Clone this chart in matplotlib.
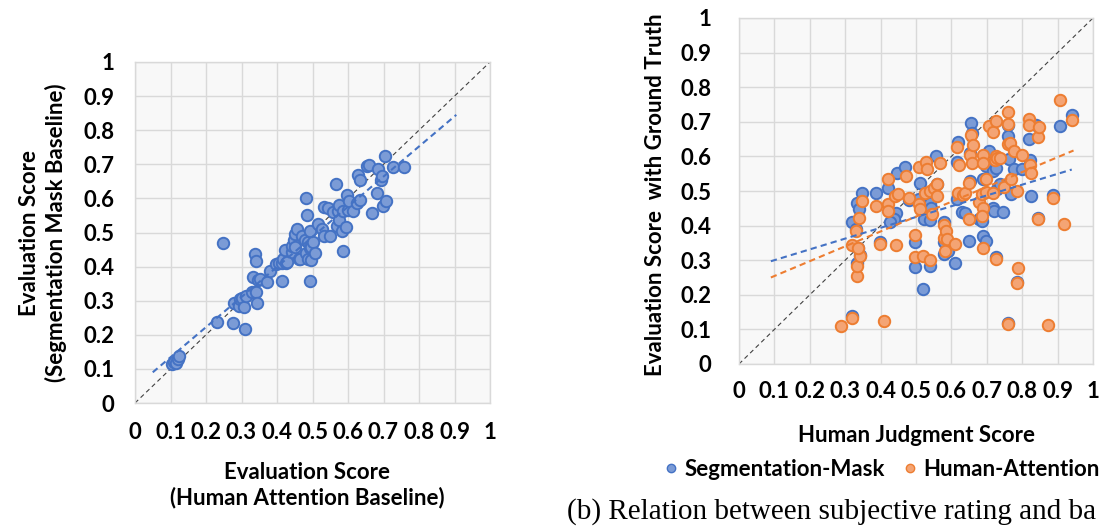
import numpy as np
import matplotlib
matplotlib.use('Agg')
import matplotlib.pyplot as plt
from matplotlib.lines import Line2D

# ---- data: left panel (human attention baseline vs segmentation mask baseline)
left_x = [0.105, 0.11, 0.115, 0.12, 0.125, 0.231, 0.248, 0.275, 0.278, 0.293, 0.295, 0.30,
          0.306, 0.309, 0.314, 0.33, 0.333, 0.339, 0.342, 0.34, 0.345, 0.347, 0.353, 0.373,
          0.38, 0.398, 0.405, 0.413, 0.414, 0.418, 0.422, 0.425, 0.427, 0.441, 0.443, 0.448,
          0.451, 0.452, 0.457, 0.461, 0.465, 0.47, 0.478, 0.482, 0.483, 0.485, 0.486, 0.487,
          0.492, 0.493, 0.494, 0.495, 0.497, 0.501, 0.507, 0.515, 0.528, 0.531, 0.531, 0.544,
          0.548, 0.559, 0.567, 0.568, 0.572, 0.576, 0.576, 0.584, 0.586, 0.587, 0.594, 0.597,
          0.601, 0.603, 0.613, 0.625, 0.628, 0.633, 0.634, 0.654, 0.658, 0.667, 0.682, 0.684,
          0.692, 0.696, 0.699, 0.703, 0.706, 0.726, 0.759]
left_y = [0.113, 0.12, 0.118, 0.128, 0.137, 0.237, 0.468, 0.235, 0.293, 0.283, 0.305, 0.308,
          0.281, 0.218, 0.313, 0.326, 0.37, 0.437, 0.415, 0.326, 0.293, 0.36, 0.364, 0.354,
          0.388, 0.409, 0.41, 0.357, 0.41, 0.421, 0.448, 0.412, 0.414, 0.444, 0.459, 0.479,
          0.458, 0.497, 0.51, 0.422, 0.421, 0.49, 0.479, 0.439, 0.6, 0.552, 0.421, 0.471,
          0.503, 0.358, 0.455, 0.457, 0.42, 0.471, 0.439, 0.526, 0.51, 0.491, 0.574, 0.572,
          0.489, 0.561, 0.643, 0.52, 0.562, 0.582, 0.538, 0.503, 0.445, 0.563, 0.516, 0.609,
          0.566, 0.591, 0.564, 0.587, 0.67, 0.655, 0.596, 0.696, 0.699, 0.556, 0.616, 0.686,
          0.655, 0.665, 0.577, 0.723, 0.591, 0.691, 0.691]
left_trend_x = [0.05, 0.905]
left_trend_y = [0.09, 0.845]

# ---- data: right panel (human judgment score vs evaluation score)
seg_x = [0.32, 0.332, 0.34, 0.347, 0.33, 0.336, 0.341, 0.332, 0.32, 0.388, 0.398, 0.42,
         0.444, 0.439, 0.427, 0.446, 0.47, 0.48, 0.51, 0.509, 0.498, 0.498, 0.522, 0.52,
         0.539, 0.541, 0.539, 0.539, 0.556, 0.558, 0.578, 0.578, 0.58, 0.59, 0.61, 0.617,
         0.62, 0.617, 0.629, 0.639, 0.649, 0.654, 0.652, 0.652, 0.659, 0.678, 0.686, 0.688,
         0.698, 0.688, 0.698, 0.707, 0.717, 0.727, 0.717, 0.72, 0.729, 0.727, 0.746, 0.737,
         0.759, 0.759, 0.764, 0.769, 0.777, 0.786, 0.8, 0.82, 0.822, 0.826, 0.839, 0.844,
         0.886, 0.907, 0.941, 0.759]
seg_y = [0.41, 0.466, 0.447, 0.495, 0.389, 0.334, 0.314, 0.293, 0.139, 0.495, 0.354, 0.509,
         0.437, 0.418, 0.41, 0.553, 0.57, 0.473, 0.522, 0.476, 0.354, 0.279, 0.418, 0.216,
         0.466, 0.452, 0.416, 0.282, 0.601, 0.521, 0.409, 0.353, 0.317, 0.327, 0.293, 0.584,
         0.641, 0.478, 0.439, 0.437, 0.356, 0.697, 0.609, 0.529, 0.668, 0.418, 0.413, 0.37,
         0.356, 0.534, 0.572, 0.615, 0.558, 0.567, 0.452, 0.442, 0.505, 0.308, 0.439, 0.519,
         0.692, 0.659, 0.593, 0.49, 0.563, 0.236, 0.564, 0.649, 0.591, 0.486, 0.692, 0.423,
         0.488, 0.689, 0.721, 0.118]
att_x = [0.288, 0.32, 0.41, 0.759, 0.873, 0.786, 0.787, 0.332, 0.332, 0.341, 0.32, 0.336,
         0.33, 0.34, 0.347, 0.388, 0.398, 0.42, 0.42, 0.42, 0.441, 0.449, 0.444, 0.471,
         0.48, 0.498, 0.498, 0.509, 0.509, 0.511, 0.52, 0.525, 0.529, 0.532, 0.539, 0.539,
         0.546, 0.551, 0.558, 0.558, 0.568, 0.578, 0.58, 0.583, 0.585, 0.587, 0.61, 0.617,
         0.62, 0.622, 0.632, 0.639, 0.649, 0.652, 0.654, 0.659, 0.66, 0.649, 0.678, 0.686,
         0.688, 0.686, 0.688, 0.688, 0.688, 0.698, 0.698, 0.707, 0.717, 0.722, 0.727, 0.727,
         0.73, 0.717, 0.727, 0.737, 0.749, 0.759, 0.759, 0.759, 0.766, 0.769, 0.778, 0.786,
         0.8, 0.82, 0.82, 0.822, 0.826, 0.844, 0.844, 0.847, 0.886, 0.907, 0.919, 0.941]
att_y = [0.111, 0.134, 0.124, 0.115, 0.113, 0.234, 0.278, 0.253, 0.282, 0.311, 0.343, 0.334,
         0.383, 0.423, 0.471, 0.457, 0.346, 0.534, 0.463, 0.442, 0.486, 0.49, 0.343, 0.543,
         0.481, 0.374, 0.31, 0.57, 0.462, 0.449, 0.313, 0.495, 0.584, 0.564, 0.3, 0.5,
         0.433, 0.51, 0.486, 0.519, 0.582, 0.402, 0.363, 0.327, 0.385, 0.36, 0.348, 0.628,
         0.495, 0.575, 0.488, 0.493, 0.418, 0.604, 0.661, 0.582, 0.632, 0.524, 0.468, 0.49,
         0.45, 0.428, 0.334, 0.603, 0.582, 0.534, 0.497, 0.688, 0.67, 0.589, 0.702, 0.602,
         0.594, 0.495, 0.303, 0.595, 0.512, 0.728, 0.695, 0.635, 0.639, 0.534, 0.615, 0.5,
         0.603, 0.707, 0.692, 0.575, 0.551, 0.418, 0.657, 0.686, 0.481, 0.763, 0.404, 0.704]
seg_trend_x = [0.09, 0.94]
seg_trend_y = [0.297, 0.562]
att_trend_x = [0.09, 0.945]
att_trend_y = [0.25, 0.617]

ticks = np.arange(0, 1.01, 0.1)
tick_labels = ['0', '0.1', '0.2', '0.3', '0.4', '0.5', '0.6', '0.7', '0.8', '0.9', '1']

blue_edge = '#4472C4'
blue_fill = '#7B9BD6'
orange_edge = '#ED7D31'
orange_fill = '#F4A474'

plt.rcParams['font.family'] = ['Lato', 'DejaVu Sans']
plt.rcParams['font.weight'] = 'bold'
FS = 16

fig = plt.figure(figsize=(11.07, 5.29), dpi=100)
W, H = 1107, 529


def style_axes(ax, pad_x, pad_y):
    ax.set_facecolor('#F8F8F8')
    ax.set_xlim(0, 1)
    ax.set_ylim(0, 1)
    ax.set_xticks(ticks)
    ax.set_yticks(ticks)
    ax.set_xticklabels(tick_labels)
    ax.set_yticklabels(tick_labels)
    ax.grid(True, color='#D9D9D9', linewidth=1.0)
    ax.set_axisbelow(True)
    for s in ax.spines.values():
        s.set_color('#D9D9D9')
        s.set_linewidth(1.0)
    ax.tick_params(axis='x', length=0, pad=pad_x, labelsize=FS)
    ax.tick_params(axis='y', length=0, pad=pad_y, labelsize=FS)
    for lab in ax.get_xticklabels() + ax.get_yticklabels():
        lab.set_fontweight('bold')
    ax.plot([0, 1], [0, 1], linestyle=(0, (4, 3)), color='#404040', linewidth=0.8, zorder=1)


# left panel
ax1 = fig.add_axes([135 / W, 1 - 403 / H, 355 / W, 341 / H])
style_axes(ax1, 14, 15)
ax1.scatter(left_x, left_y, s=68, facecolor=blue_fill, edgecolor=blue_edge, linewidth=1.4, zorder=3)
ax1.plot(left_trend_x, left_trend_y, linestyle=(0, (3, 2)), color=blue_edge, linewidth=1.5, zorder=4)

fig.text(43 / W, 1 - 233 / H, 'Evaluation Score\n(Segmentation Mask Baseline)', rotation=90,
         ha='center', va='center', multialignment='center', fontsize=FS, fontweight='bold',
         linespacing=1.3)
fig.text(307 / W, 1 - 485 / H, 'Evaluation Score\n(Human Attention Baseline)', ha='center',
         va='center', multialignment='center', fontsize=FS, fontweight='bold', linespacing=1.2)

# right panel
ax2 = fig.add_axes([739 / W, 1 - 364 / H, 354 / W, 346 / H])
style_axes(ax2, 12, 20)
ax2.scatter(seg_x, seg_y, s=68, facecolor=blue_fill, edgecolor=blue_edge, linewidth=1.4, zorder=3)
ax2.scatter(att_x, att_y, s=68, facecolor=orange_fill, edgecolor=orange_edge, linewidth=1.4, zorder=3)
ax2.plot(seg_trend_x, seg_trend_y, linestyle=(0, (3, 2)), color=blue_edge, linewidth=1.5, zorder=4)
ax2.plot(att_trend_x, att_trend_y, linestyle=(0, (3, 2)), color=orange_edge, linewidth=1.5, zorder=4)

fig.text(655 / W, 1 - 195 / H, 'Evaluation Score  with Ground Truth', rotation=90,
         ha='center', va='center', fontsize=FS, fontweight='bold')
fig.text(916 / W, 1 - 435 / H, 'Human Judgment Score', ha='center', va='center',
         fontsize=FS, fontweight='bold')

handles = [Line2D([], [], linestyle='none', marker='o', markersize=6, markerfacecolor=blue_fill,
                  markeredgecolor=blue_edge, markeredgewidth=1.0),
           Line2D([], [], linestyle='none', marker='o', markersize=6, markerfacecolor=orange_fill,
                  markeredgecolor=orange_edge, markeredgewidth=1.0)]
fig.legend(handles, ['Segmentation-Mask', 'Human-Attention'], loc='center',
           bbox_to_anchor=(881 / W, 1 - 469 / H), ncol=2, frameon=False,
           prop={'size': FS, 'weight': 'bold'}, handletextpad=0.2, columnspacing=0.75,
           handlelength=0.8, borderpad=0.1)

# caption as visible in the reference (cut at the image edge there)
fig.text(567 / W, 1 - 512 / H, '(b) Relation between subjective rating and ba',
         ha='left', va='center', fontsize=21, family='Liberation Serif', fontweight='normal')

fig.savefig('out.png', dpi=100)
